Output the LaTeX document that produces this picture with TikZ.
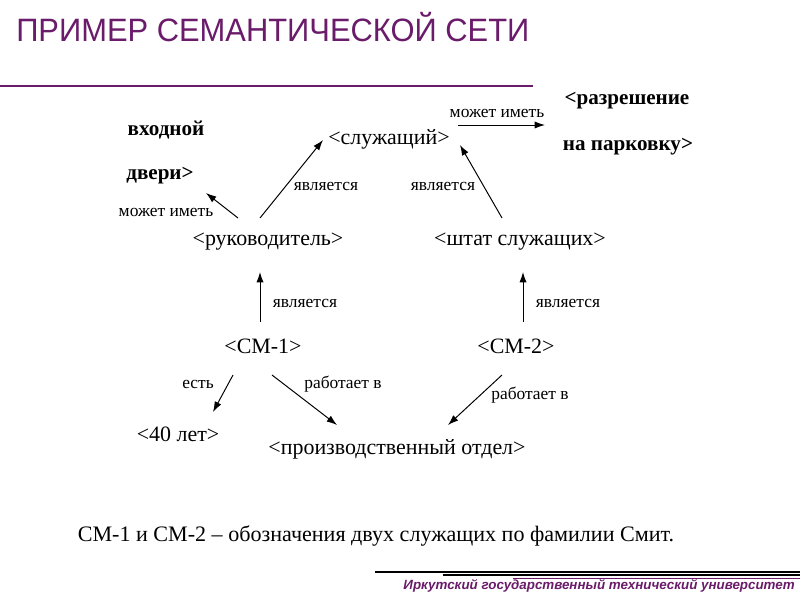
\documentclass[tikz,border=0pt]{standalone}
\usepackage{fontspec}
\setmainfont{Liberation Serif}
\newfontfamily\headfont{Liberation Sans}
\usetikzlibrary{arrows.meta}
\definecolor{SNPurple}{HTML}{6A1B6A}

\begin{document}
\begin{tikzpicture}[x=0.025cm,y=0.025cm,
  term/.style={inner sep=0pt,font=\fontsize{15.6}{18}\selectfont},
  termb/.style={inner sep=0pt,font=\fontsize{15}{18}\selectfont\bfseries},
  rel/.style={inner sep=0pt,font=\fontsize{12.4}{14}\selectfont},
  arr/.style={line width=.7pt,-{Latex[length=2.6mm,width=1.8mm]}}]
\path[use as bounding box] (0,0) rectangle (800,600);
\fill[white] (0,0) rectangle (800,600);
% header
\node[anchor=west,inner sep=0pt,text=SNPurple,font=\headfont\fontsize{23}{27}\selectfont] (title) at (16,573) {\scalebox{0.955}[1]{ПРИМЕР СЕМАНТИЧЕСКОЙ СЕТИ}};
\draw[SNPurple,line width=1.1pt] (0,514) -- (533,514);
% terms
\node[termb] (vhod) at (166,470) {входной};
\node[termb] (dveri) at (160,424) {двери>};
\node[term] (sluzh) at (389,461) {<служащий>};
\node[termb] (razr) at (627,499) {<разрешение};
\node[termb] (park) at (628,453) {на парковку>};
\node[term] (ruk) at (268,358) {<руководитель>};
\node[term] (shtat) at (520,358) {<штат служащих>};
\node[term] (cm1) at (263,254) {<СМ-1>};
\node[term] (cm2) at (516,254) {<СМ-2>};
\node[term] (let40) at (178,166) {<40 лет>};
\node[term] (otdel) at (397,151) {<производственный отдел>};
% relations
\draw[arr] ([shift={(-30,24)}]ruk.center) -- ([shift={(46,-17)}]dveri.center);
\draw[arr] ([shift={(-8,24)}]ruk.center) -- ([shift={(-66,-1)}]sluzh.center);
\draw[arr] ([shift={(-18,24)}]shtat.center) -- ([shift={(71,-6)}]sluzh.center);
\draw[arr] ([shift={(69,14)}]sluzh.center) -- ([shift={(-82,-24)}]razr.center);
\draw[arr] ([shift={(-3,24)}]cm1.center) -- ([shift={(-8,-30)}]ruk.center);
\draw[arr] ([shift={(7,24)}]cm2.center) -- ([shift={(3,-30)}]shtat.center);
\draw[arr] ([shift={(-30,-29)}]cm1.center) -- ([shift={(35,22)}]let40.center);
\draw[arr] ([shift={(9,-29)}]cm1.center) -- ([shift={(-60,24)}]otdel.center);
\draw[arr] ([shift={(-14,-29)}]cm2.center) -- ([shift={(51,24)}]otdel.center);
\node[rel] (l1) at (166,388) {может иметь};
\node[rel] (l2) at (326,414) {является};
\node[rel] (l3) at (443,414) {является};
\node[rel] (l4) at (497,487) {может иметь};
\node[rel] (l5) at (305,297) {является};
\node[rel] (l6) at (568,297) {является};
\node[rel] (l7) at (198,216) {есть};
\node[rel] (l8) at (343,216) {работает в};
\node[rel] (l9) at (530,205) {работает в};
% note
\node[inner sep=0pt,font=\fontsize{15.7}{18}\selectfont] (note) at (376,64) {СМ-1 и СМ-2 – обозначения двух служащих по фамилии Смит.};
% footer
\draw[line width=1.8pt] (375,28) -- (800,28);
\draw[line width=1.4pt] (443,25) -- (800,25);
\draw[SNPurple,line width=.7pt] (513,22) -- (800,22);
\node[anchor=east,inner sep=0pt,text=SNPurple,font=\headfont\fontsize{9.5}{12}\selectfont\bfseries\itshape] (univ) at (795,14) {Иркутский государственный технический университет};
\end{tikzpicture}
\end{document}
